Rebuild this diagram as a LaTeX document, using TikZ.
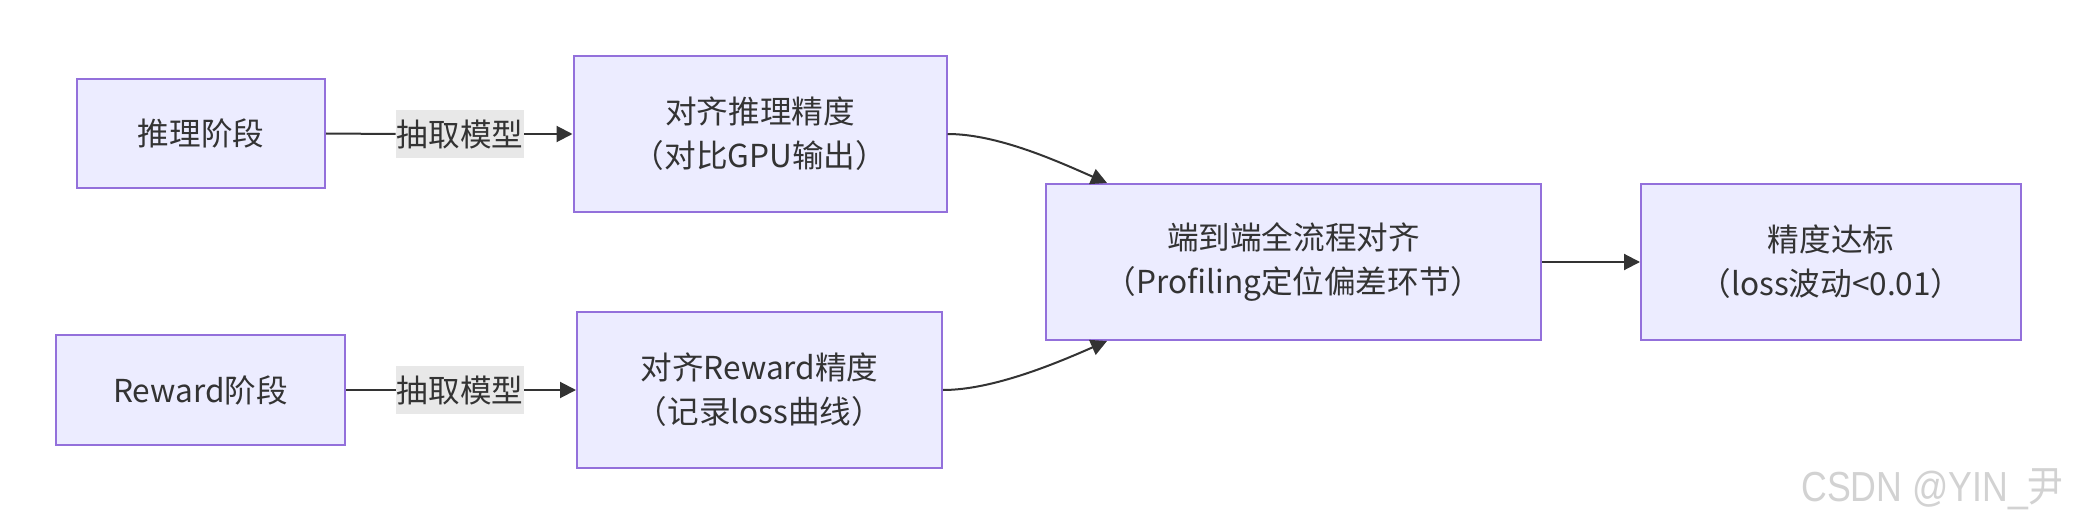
\documentclass[tikz,border=0pt]{standalone}
\usepackage{fontspec}
\setmainfont{Noto Sans CJK SC}
\newfontfamily\wmfont{Liberation Sans}
\newfontfamily\cjkfont{Noto Sans CJK SC}
\usetikzlibrary{arrows.meta,calc}
\definecolor{nodefill}{HTML}{ECECFF}
\definecolor{nodeedge}{HTML}{9370DB}
\definecolor{txt}{HTML}{333333}
\definecolor{lblbg}{HTML}{E8E8E8}
\definecolor{wm}{HTML}{D2D2D2}
\tikzset{
  box/.style={draw=nodeedge, fill=nodefill, line width=1pt, inner sep=0pt,
    text=txt, align=center, font=\fontsize{15.8}{22}\selectfont},
  lbl/.style={fill=lblbg, inner sep=0pt, minimum width=64pt, minimum height=24pt,
    text=txt, font=\fontsize{15.8}{22}\selectfont},
  arr/.style={draw=txt, line width=1pt, -{Triangle[length=8pt,width=8pt]}},
  plain/.style={draw=txt, line width=1pt}
}
\begin{document}
\begin{tikzpicture}[x=0.5pt,y=-0.5pt]
\useasboundingbox[fill=white] (0,0) rectangle (2076,524);
\node[box, minimum width=124pt, minimum height=54.5pt] (A) at (201,133.5) {推理阶段};
\node[box, minimum width=186.5pt, minimum height=78pt] (B) at (760,134) {对齐推理精度\\（对比GPU输出）};
\node[box, minimum width=144.5pt, minimum height=55pt] (C) at (200.5,390) {Reward阶段};
\node[box, minimum width=182.5pt, minimum height=78pt] (D) at (759.5,390) {对齐Reward精度\\（记录loss曲线）};
\node[box, minimum width=247.5pt, minimum height=78pt] (E) at (1293.5,262) {端到端全流程对齐\\（Profiling定位偏差环节）};
\node[box, minimum width=190pt, minimum height=78pt] (F) at (1831,262) {精度达标\\（loss波动<0.01）};
\node[lbl] (L1) at (460,134) {抽取模型};
\node[lbl] (L2) at (460,390) {抽取模型};
\coordinate (Et) at ($(E.north west)+(62,0)$);
\coordinate (Eb) at ($(E.south west)+(62,0)$);
\draw[plain] (A.east) -- (L1.west);
\draw[arr] (L1.east) -- (B.west);
\draw[plain] (C.east) -- (L2.west);
\draw[arr] (L2.east) -- (D.west);
\draw[arr] (B.east) .. controls +(50,0) and +(-50,-22) .. (Et);
\draw[arr] (D.east) .. controls +(50,0) and +(-50,22) .. (Eb);
\draw[arr] (E.east) -- (F.west);
\node[anchor=east, text=wm, font=\wmfont\fontsize{21}{26}\selectfont, inner sep=0pt] (W) at (2064,489) {\scalebox{0.85}[1]{CSDN @YIN\_{\cjkfont 尹}}};
\end{tikzpicture}
\end{document}
